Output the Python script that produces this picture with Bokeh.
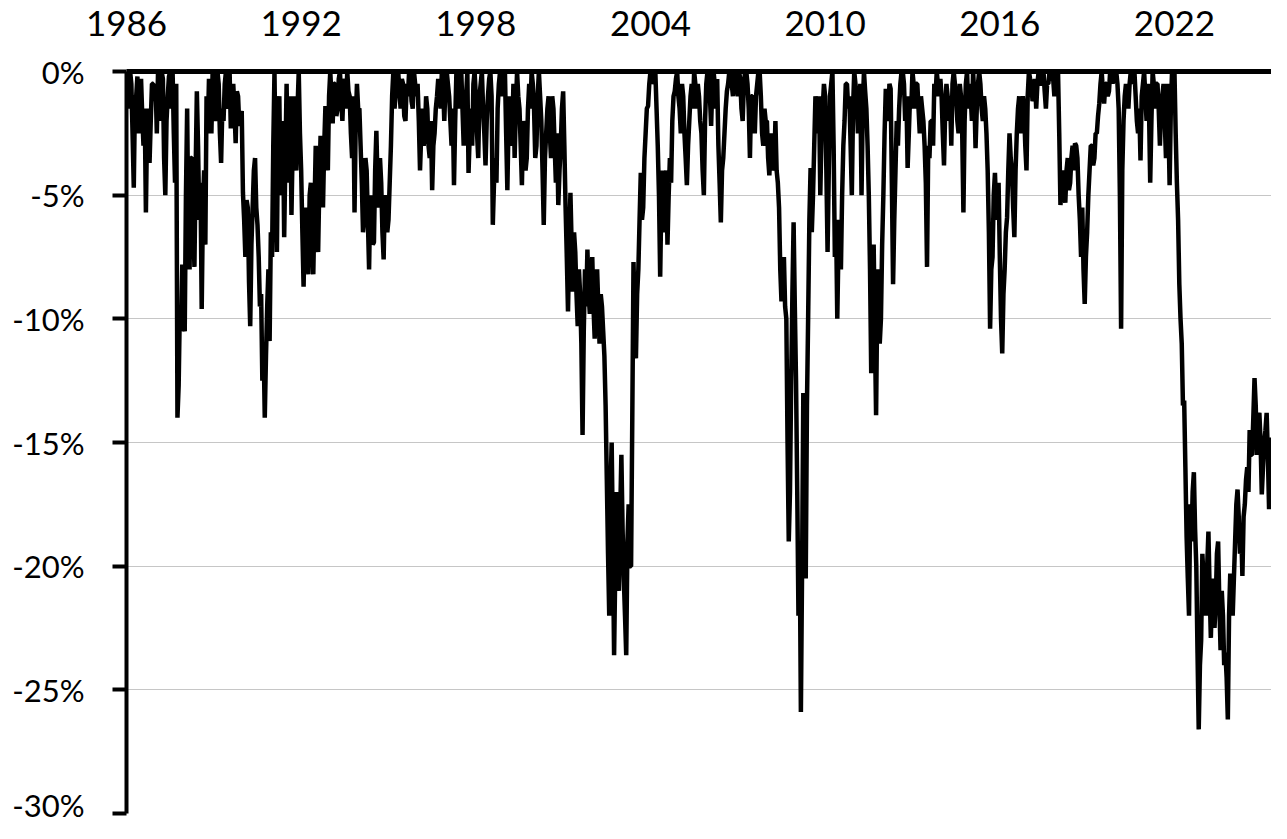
import numpy as np
from bokeh.plotting import figure
from bokeh.models import FixedTicker, PrintfTickFormatter, Range1d
from bokeh.embed import file_html
from bokeh.resources import INLINE

# half-monthly drawdown from the previous peak, in %
drawdown_1986_1995 = [
    0, -0.8, -1.5, 0, -0.5, -2.5, -4.7, -1.0, -1.0, -0.2, -2.5, -1.0, -0.3, -1.8, -3.0, -1.5, -5.7, -2.0, -1.5, -3.7, -2.0, -0.5, -0.5, -1.2,
    -0.5, -2.5, 0, -1.0, -2.0, 0, -0.3, -3.5, -5.0, -2.0, -1.0, -0.2, 0, -1.5, 0, -2.5, -4.5, -0.5, -14.0, -12.7, -9.5, -10.5, -7.8, -10.3,
    -10.5, -5.0, -1.5, -6.5, -8.0, -3.5, -3.5, -6.0, -7.9, -4.0, -0.8, -3.0, -6.0, -4.5, -9.6, -5.5, -4.0, -7.0, -1.0, -2.5, -0.3, -1.5, -2.5, 0,
    -0.3, -2.0, -1.5, 0, -0.5, -2.5, -3.7, -1.5, -2.0, -0.5, 0, -1.5, -1.2, 0, -2.3, -1.0, -0.5, -1.5, -2.9, -0.8, -1.0, -2.2, -1.8, -1.6,
    -4.9, -6.0, -7.5, -5.2, -5.5, -8.5, -10.3, -7.0, -5.5, -4.0, -3.5, -5.5, -6.2, -7.5, -9.5, -9.0, -12.5, -11.0, -14.0, -11.5, -9.5, -8.0, -10.9, -6.5,
    -7.5, -3.0, 0, -4.0, -7.3, -2.0, -1.0, -5.0, -4.0, -2.0, -6.7, -3.5, -0.5, -4.5, -3.0, -1.0, -5.8, -3.0, -1.0, -3.5, -4.0, -1.5, 0, -2.5,
    -4.0, -6.5, -8.7, -6.0, -5.5, -7.0, -8.2, -5.0, -4.5, -6.5, -8.2, -5.5, -3.0, -6.0, -7.3, -4.5, -2.6, -4.0, -5.5, -3.0, -1.4, -2.5, -4.0, -1.0,
    0, -1.0, -2.1, -0.5, -0.5, -1.8, -1.5, -0.3, 0, -1.2, -2.0, -0.5, -0.3, -1.5, 0, -0.8, -1.0, -2.5, -3.5, -1.0, -5.7, -2.0, -0.5, -1.5,
    -1.5, -3.0, -4.5, -6.5, -6.0, -3.5, -4.0, -6.0, -8.0, -5.0, -5.5, -7.0, -6.9, -4.0, -2.4, -4.5, -5.5, -3.5, -4.5, -6.5, -7.6, -5.0, -5.5, -6.5,
    -6.0, -4.5, -3.0, -1.0, 0, -1.5, -0.8, 0, 0, -0.8, -1.5, -0.3, -0.5, -1.8, -2.0, -0.5, -1.0, 0, 0, -1.2, -1.5, 0, -0.5, -1.0,
]
drawdown_1996_2005 = [
    -0.5, -2.0, -4.0, -2.5, -1.5, -3.0, -2.5, -1.0, -1.5, -3.0, -3.5, -2.0, -4.8, -3.0, -2.5, -1.5, -1.0, -0.3, -0.5, -1.5, 0, -0.5, -2.0, -0.5,
    0, -0.5, -1.0, -2.0, -3.0, -1.5, -4.6, -2.0, 0, -0.8, -1.5, 0, 0, -1.5, -3.0, -1.5, -1.0, 0, -4.1, -2.5, -1.5, -3.0, -0.5, 0,
    -1.0, -2.5, -3.5, -1.0, -0.5, 0, -1.5, -2.5, -3.8, -2.0, -1.0, -0.3, 0, -1.0, -6.2, -4.5, -3.5, -4.5, -1.5, -0.5, 0, -1.0, -0.5, 0,
    0, -2.5, -4.8, -2.0, -1.0, -3.0, -2.5, -0.5, -3.5, -1.5, 0, -1.0, -1.5, -3.0, -4.6, -2.0, -2.5, -4.0, -3.5, -1.5, -0.5, -1.5, 0, -0.5,
    -1.5, -3.5, -3.0, -1.0, 0, -1.0, -2.0, -4.0, -6.2, -3.5, -2.5, -1.5, -1.0, -2.5, -3.5, -1.0, -1.5, -3.0, -4.5, -2.5, -5.4, -4.0, -3.0, -1.5,
    -0.8, -3.0, -5.5, -7.5, -9.7, -7.0, -4.9, -7.0, -8.9, -6.5, -7.3, -9.0, -10.3, -8.0, -9.0, -11.0, -14.7, -10.5, -8.0, -9.5, -7.2, -9.0, -9.8, -8.5,
    -7.5, -9.5, -10.8, -8.5, -8.0, -9.5, -11.0, -9.0, -9.5, -10.5, -11.5, -13.5, -16.5, -19.5, -22.0, -17.0, -15.0, -19.0, -23.6, -20.0, -17.0, -19.5, -21.0, -18.0,
    -15.5, -18.5, -20.5, -22.0, -23.6, -19.0, -17.5, -20.0, -20.0, -14.0, -7.7, -10.0, -11.6, -9.0, -8.0, -6.0, -4.1, -6.0, -5.5, -3.5, -2.5, -1.5, -1.4, -0.5,
    0, -0.5, -0.3, 0, 0, -1.5, -3.0, -5.0, -8.3, -5.0, -4.0, -6.5, -5.5, -4.0, -7.0, -5.0, -3.5, -4.5, -2.0, -1.0, -0.8, -0.3, 0, -1.0,
    -1.5, -2.5, -0.5, -1.0, -2.5, -3.5, -4.6, -3.0, -2.0, -1.0, -0.5, -1.5, 0, -0.5, -1.5, -0.5, -1.0, -2.0, -2.5, -4.0, -5.0, -2.0, -0.5, 0,
]
drawdown_2006_2015 = [
    0, -1.0, -2.2, -0.5, 0, -0.5, -1.5, -0.3, -3.0, -4.5, -6.1, -4.0, -3.5, -2.5, -1.5, -0.8, -0.5, 0, 0, -0.5, -1.0, 0, 0, -0.5,
    -1.0, 0, -0.3, -1.5, -2.0, -0.5, 0, 0, -0.5, -1.5, -3.5, -1.0, -1.0, -2.0, -2.5, -1.0, -0.5, 0, 0, -1.0, -2.5, -3.0, -1.5, -2.0,
    -2.0, -3.5, -4.2, -3.0, -2.5, -4.0, -3.8, -2.0, -4.0, -4.5, -5.5, -8.0, -9.3, -8.0, -7.5, -9.5, -10.0, -15.0, -19.0, -17.0, -12.5, -9.0, -6.1, -9.5,
    -12.5, -17.0, -22.0, -19.0, -25.9, -20.0, -13.0, -17.0, -20.5, -13.5, -9.9, -6.0, -3.9, -6.5, -5.0, -3.0, -1.0, -2.0, -2.5, -1.0, -5.0, -2.5, -1.5, -0.5,
    -1.0, -4.0, -7.3, -4.0, -1.0, -0.5, 0, -3.0, -7.5, -6.0, -10.0, -7.0, -6.0, -8.0, -5.0, -3.0, -2.0, -0.5, -0.5, -1.5, -1.0, -3.0, -5.0, -1.5,
    0, -0.5, -1.0, -2.5, -2.0, -0.5, -5.0, -1.5, 0, -0.8, -1.5, -3.0, -5.0, -8.0, -12.2, -9.0, -7.0, -10.5, -13.9, -9.0, -8.0, -11.0, -10.0, -7.0,
    -5.0, -2.5, -0.7, -1.5, -2.0, -0.5, -0.7, -4.5, -8.6, -6.0, -4.0, -2.0, -3.0, -1.5, -0.5, 0, 0, -0.5, -2.0, -1.0, -3.9, -2.5, -1.0, -1.5,
    0, -0.5, -1.5, -0.5, -0.5, -1.5, -2.5, -1.0, -1.5, -2.0, -3.0, -4.5, -7.9, -3.0, -3.5, -2.0, -2.0, -3.0, -0.5, -1.0, 0, -0.5, -1.0, -0.3,
    -1.0, -2.5, -3.8, -1.5, -0.5, -1.0, -2.0, -1.0, -3.0, -0.5, 0, -0.5, -1.0, -2.0, -2.5, -0.5, -1.0, -2.5, -5.7, -2.0, -0.5, 0, -1.5, -0.5,
    -1.0, -2.0, 0, -1.0, -3.1, -1.5, -0.5, 0, -0.5, -1.5, -2.0, -1.0, -1.5, -2.5, -4.0, -6.5, -10.4, -8.0, -7.5, -5.0, -4.1, -5.5, -6.0, -4.5,
]
drawdown_2016_2025 = [
    -7.5, -10.0, -11.4, -9.0, -8.0, -6.5, -5.9, -4.0, -2.5, -3.5, -4.0, -5.5, -6.7, -4.0, -2.5, -1.5, -1.0, -2.5, -2.0, -1.0, -1.5, -3.0, -4.0, -1.0,
    0, -0.3, -0.5, -1.2, -1.0, -0.3, -1.5, -0.5, 0, -0.5, -0.5, 0, 0, -0.8, -1.5, -0.5, -0.5, 0, 0, -0.3, -0.3, -1.0, 0, -0.2,
    0, -2.5, -5.4, -4.5, -4.0, -5.0, -5.3, -4.0, -3.5, -4.8, -4.5, -3.5, -3.0, -4.0, -2.9, -3.0, -3.5, -5.0, -6.0, -7.5, -5.5, -8.0, -9.4, -7.5,
    -6.5, -5.0, -4.0, -3.0, -3.0, -3.8, -3.5, -2.5, -2.5, -1.8, -1.3, -0.5, 0, -0.8, -1.3, -0.5, -0.5, -1.0, -0.8, 0, 0, -0.5, 0, -0.3,
    0, -0.5, -1.5, -5.0, -10.4, -4.0, -2.0, -1.0, -0.5, -1.0, -1.5, -0.5, 0, -0.5, -0.3, 0, -1.0, -2.0, -2.5, -1.5, -3.6, -1.0, -0.5, 0,
    -1.0, -2.0, -0.5, -1.5, -4.5, -2.0, 0, -0.5, -1.5, -0.5, -0.5, -1.5, -3.0, -1.5, -1.0, -0.5, -2.0, -3.5, -0.5, -2.0, -4.6, -1.5, 0, -0.5,
    0, -2.5, -4.5, -6.0, -8.6, -10.0, -11.0, -13.5, -13.3, -16.0, -18.8, -20.5, -22.0, -17.5, -19.0, -17.0, -16.2, -18.5, -20.0, -23.5, -26.6, -24.0, -23.0, -19.5,
    -20.5, -21.5, -22.0, -20.0, -18.6, -21.0, -22.9, -21.0, -20.5, -22.5, -21.5, -19.5, -19.0, -21.5, -23.4, -21.0, -22.0, -24.0, -23.5, -24.5, -26.2, -22.0, -20.3, -21.5,
    -22.0, -20.5, -19.0, -17.5, -16.9, -18.0, -19.5, -18.5, -20.4, -18.0, -17.5, -16.5, -16.0, -17.0, -14.5, -15.5, -15.5, -14.0, -12.4, -13.5, -15.5, -14.0, -13.8, -15.0,
    -17.1, -16.0, -15.0, -14.5, -13.8, -15.5, -17.7, -15.5, -14.8,
]

start_year = 1986
points_per_year = 24
year_ticks = [1986, 1992, 1998, 2004, 2010, 2016, 2022]
pct_ticks = [0, -5, -10, -15, -20, -25, -30]

drawdown = drawdown_1986_1995 + drawdown_1996_2005 + drawdown_2006_2015 + drawdown_2016_2025
dates = start_year + np.arange(len(drawdown)) / points_per_year

FONT = "Lato"

p = figure(
    width=1271,
    height=823,
    x_range=Range1d(start_year, dates[-1]),
    y_range=Range1d(-30, 0),
    x_axis_location="above",
    output_backend="svg",
    toolbar_location=None,
    min_border_left=126,
    min_border_top=71,
    min_border_right=0,
    min_border_bottom=10,
)
p.outline_line_color = None
p.background_fill_color = "white"
p.border_fill_color = "white"

p.xgrid.visible = False
p.ygrid.grid_line_color = "#c6c6c6"
p.ygrid.grid_line_width = 1

# years along the top, the axis line doubles as the 0% line
xax = p.xaxis[0]
xax.ticker = FixedTicker(ticks=year_ticks)
xax.formatter = PrintfTickFormatter(format="%d")
xax.axis_line_color = "black"
xax.axis_line_width = 5
xax.major_tick_out = 0
xax.major_tick_in = 0
xax.minor_tick_out = 0
xax.minor_tick_in = 0
xax.major_label_standoff = 36
xax.major_label_text_line_height = 0.7
xax.major_label_text_font = FONT
xax.major_label_text_font_size = "35px"
xax.major_label_text_color = "black"

yax = p.yaxis[0]
yax.ticker = FixedTicker(ticks=pct_ticks)
yax.formatter = PrintfTickFormatter(format="%d%%")
yax.axis_line_color = "black"
yax.axis_line_width = 4
yax.major_tick_line_color = "black"
yax.major_tick_line_width = 4
yax.major_tick_out = 14
yax.major_tick_in = 0
yax.minor_tick_out = 0
yax.minor_tick_in = 0
yax.major_label_standoff = 28
yax.major_label_text_font = FONT
yax.major_label_text_font_size = "31px"
yax.major_label_text_color = "black"

p.line(dates, drawdown, line_color="black", line_width=4.5, line_join="bevel")

open("out.html", "w").write(file_html(p, INLINE))
